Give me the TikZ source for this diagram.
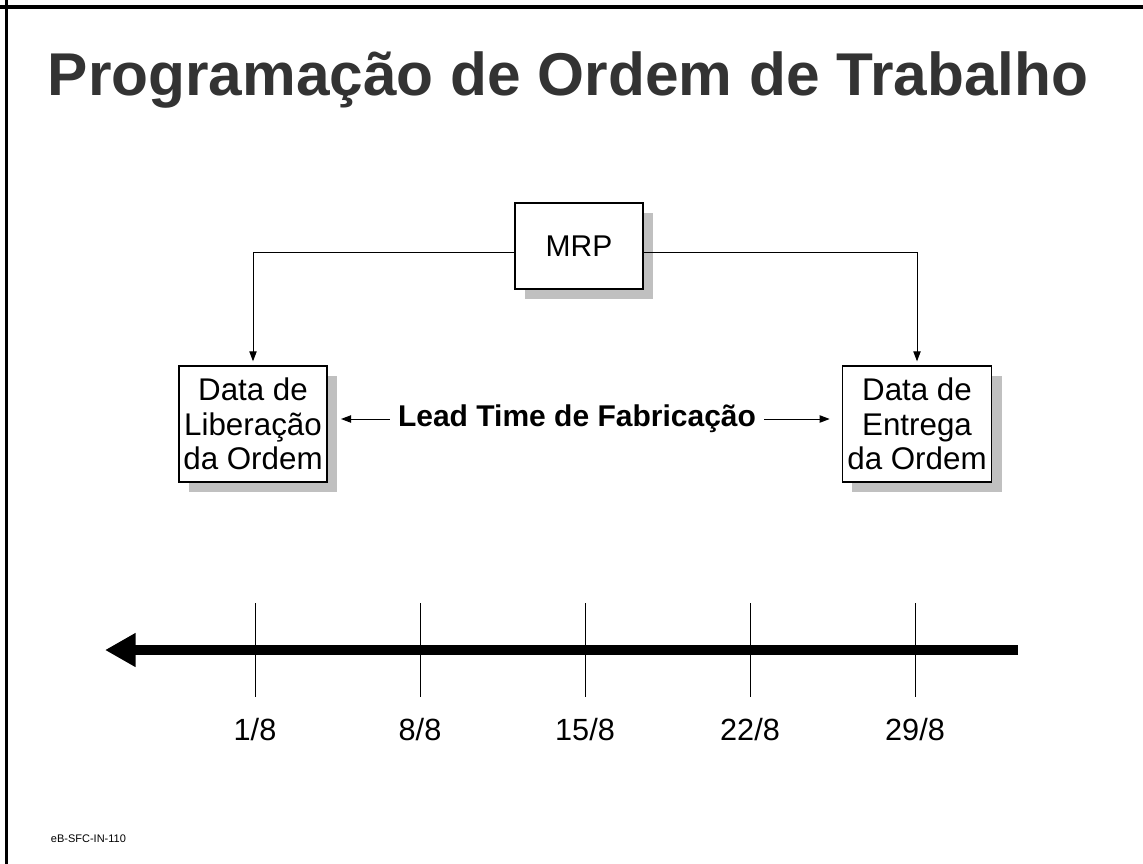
\documentclass[tikz,border=0pt]{standalone}
\usepackage{fontspec}
\setmainfont{Liberation Sans}
\usetikzlibrary{arrows.meta,shadows}
\definecolor{titlegray}{HTML}{333333}
\definecolor{shadowgray}{HTML}{C0C0C0}
\begin{document}
\begin{tikzpicture}[x=.75pt,y=-.75pt,line width=.75pt,
    box/.style={draw,fill=white,line width=1pt,align=center,inner sep=0pt,
      general shadow={fill=shadowgray,shadow xshift=7.5pt,shadow yshift=-7.5pt}},
    tip/.style={-{Triangle[length=7.5pt,width=5.5pt]}}]
  \useasboundingbox (0,0) rectangle (1143,864);
  \draw[line width=2.8pt] (0,7) -- (1143,7); \draw[line width=2.6pt] (6.5,0) -- (6.5,864);
  \node[anchor=base,text=titlegray,font=\bfseries\fontsize{45.3}{50}\selectfont] (title) at (568,95)
    {Programação de Ordem de Trabalho};
  \node[box,minimum width=96pt,minimum height=64.5pt,font=\fontsize{22.5}{25}\selectfont] (mrp) at (579,246) {MRP};
  \node[box,minimum width=111pt,minimum height=87pt,font=\fontsize{23.5}{26}\selectfont] (lib) at (253,424)
    {Data de\\Liberação\\da Ordem};
  \node[box,minimum width=112pt,minimum height=87pt,font=\fontsize{23.5}{26}\selectfont] (ent) at (917,424)
    {Data de\\Entrega\\da Ordem};
  \draw[tip,shorten >=3pt] ([yshift=-5pt]mrp.west) -| (lib.north);
  \draw[tip,shorten >=3pt] ([yshift=-5pt]mrp.east) -| (ent.north);
  \node[font=\bfseries\fontsize{22.5}{25}\selectfont,inner xsep=6pt] (lead) at (577,419) {Lead Time de Fabricação};
  \draw[tip,shorten >=10pt] (lead.west) -- (lead.west -| lib.east);
  \draw[tip,shorten >=9pt] (lead.east) -- (lead.east -| ent.west);
  % linha do tempo
  \coordinate (tl-start) at (1018,650); \coordinate (tl-end) at (105,650);
  \draw[line width=7.5pt,-{Triangle[length=23pt,width=24pt]}] (tl-start) -- (tl-end);
  \foreach \x/\d [count=\i] in {255/1,420/8,585/15,750/22,915/29}
    \draw (\x,603) -- (\x,697) node[below,inner sep=15.5pt,font=\fontsize{23}{26}\selectfont] (d\i) {\d/8};
  \node[anchor=base west,font=\fontsize{8.25}{10}\selectfont] (code) at (46,842) {eB-SFC-IN-110};
\end{tikzpicture}
\end{document}
